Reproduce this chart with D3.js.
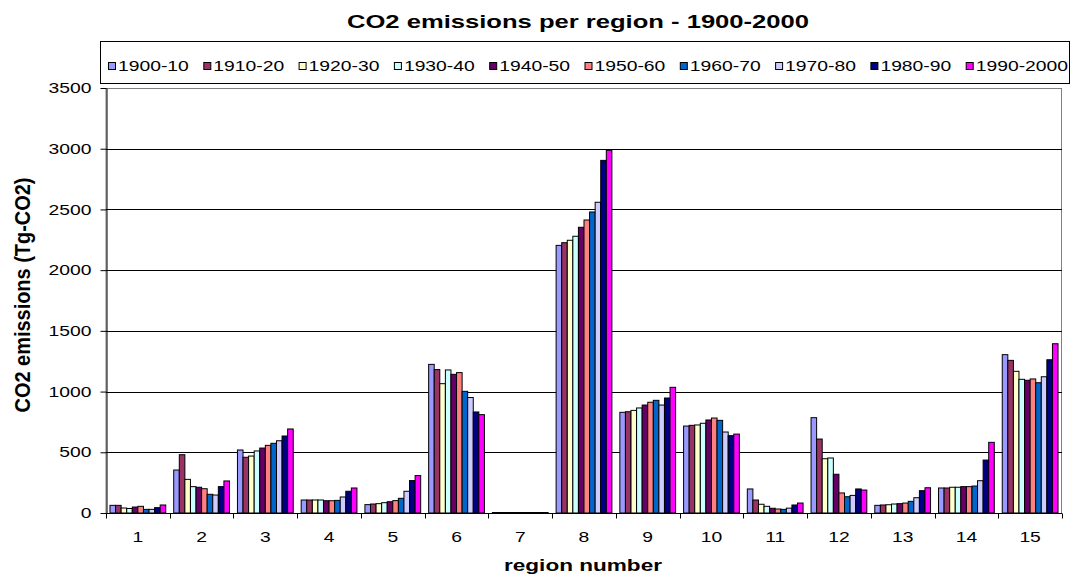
<!DOCTYPE html>
<html>
<head>
<meta charset="utf-8">
<script src="https://cdn.jsdelivr.net/npm/d3@7"></script>
<style>
  html, body { margin: 0; padding: 0; background: #fff; }
  svg { display: block; font-family: "Liberation Sans", Arial, sans-serif; }
</style>
</head>
<body>
<svg id="chart" width="1073" height="576"></svg>
<script>
// Regions on the x axis
const regions = ["1","2","3","4","5","6","7","8","9","10","11","12","13","14","15"];

// Decades shown in the legend
const periods = ["1900-10","1910-20","1920-30","1930-40","1940-50","1950-60","1960-70","1970-80","1980-90","1990-2000"];
const periodColors = ["#9999FF","#993366","#FFFFCC","#CCFFFF","#660066","#FF8080","#0066CC","#CCCCFF","#000080","#FF00FF"];

// CO2 emissions (Tg-CO2) per region, one array per decade
const e1900_10   = [63, 354, 519, 107,  69, 1224, 4, 2204,  829, 716, 198, 785,  63, 206, 1304];
const e1910_20   = [63, 480, 459, 107,  74, 1181, 4, 2226,  834, 722, 107, 609,  66, 206, 1257];
const e1920_30   = [41, 277, 469, 107,  77, 1065, 4, 2246,  845, 725,  72, 447,  68, 212, 1167];
const e1930_40   = [37, 217, 511, 107,  85, 1178, 4, 2279,  865, 739,  55, 453,  74, 212, 1101];
const e1940_50   = [49, 212, 535, 101,  93, 1142, 4, 2353,  889, 766,  39, 319,  77, 217, 1093];
const e1950_60   = [55, 200, 557, 101, 102, 1156, 4, 2413,  912, 782,  33, 165,  82, 217, 1104];
const e1960_70   = [30, 154, 574, 104, 121, 1002, 4, 2479,  928, 763,  30, 134,  96, 222, 1073];
const e1970_80   = [30, 148, 595, 132, 179,  951, 4, 2559,  889, 667,  40, 145, 126, 266, 1122];
const e1980_90   = [44, 217, 634, 179, 267,  832, 4, 2904,  947, 637,  66, 198, 184, 436, 1262];
const e1990_2000 = [66, 264, 692, 206, 308,  810, 4, 2987, 1035, 650,  82, 189, 208, 582, 1394];
const seriesValues = [e1900_10, e1910_20, e1920_30, e1930_40, e1940_50, e1950_60, e1960_70, e1970_80, e1980_90, e1990_2000];

// Y axis tick values
const yTicks = [0, 500, 1000, 1500, 2000, 2500, 3000, 3500];

const svg = d3.select("#chart");
const plot = { left: 106, right: 1062, top: 88, bottom: 513 };
const SX = 1.35; // horizontal stretch of all lettering

// Stretch a text element horizontally by a factor, keeping its anchor
function stretch(sel, k) {
  sel.each(function () {
    const len = this.getComputedTextLength();
    d3.select(this).attr("textLength", len * k).attr("lengthAdjust", "spacingAndGlyphs");
  });
}

const x0 = d3.scaleBand().domain(regions).range([plot.left, plot.right])
  .paddingInner(0.125).paddingOuter(0.0625);
const x1 = d3.scaleBand().domain(periods).range([0, x0.bandwidth()]);
const y = d3.scaleLinear().domain([0, 3500]).range([plot.bottom, plot.top]);

// Title
svg.append("text")
  .attr("x", 578).attr("y", 28)
  .attr("text-anchor", "middle")
  .attr("font-size", 18.5).attr("font-weight", "bold")
  .text("CO2 emissions per region - 1900-2000")
  .attr("textLength", 462).attr("lengthAdjust", "spacingAndGlyphs");

// Legend box
svg.append("rect")
  .attr("x", 100.5).attr("y", 41.5).attr("width", 969).attr("height", 42)
  .attr("fill", "#fff").attr("stroke", "#000").attr("stroke-width", 1);

const legendStep = 95.3;
const legend = svg.append("g").selectAll("g").data(periods).join("g")
  .attr("transform", (d, i) => `translate(${108 + i * legendStep},0)`);
legend.append("rect")
  .attr("x", 0.5).attr("y", 62.5).attr("width", 7).attr("height", 7)
  .attr("fill", (d, i) => periodColors[i]).attr("stroke", "#000").attr("stroke-width", 1);
legend.append("text")
  .attr("x", 10).attr("y", 71)
  .attr("font-size", 14.3)
  .text(d => d)
  .call(stretch, SX);

// Plot area frame
svg.append("rect")
  .attr("x", plot.left).attr("y", plot.top + 0.5)
  .attr("width", plot.right - plot.left - 0.5).attr("height", plot.bottom - plot.top)
  .attr("fill", "#fff").attr("stroke", "#808080").attr("stroke-width", 1);

// Horizontal gridlines
svg.append("g").selectAll("line").data(yTicks.filter(v => v > 0 && v < 3500)).join("line")
  .attr("x1", plot.left).attr("x2", plot.right)
  .attr("y1", d => Math.round(y(d)) + 0.5).attr("y2", d => Math.round(y(d)) + 0.5)
  .attr("stroke", "#000").attr("stroke-width", 1);

// Bars
const groups = svg.append("g").selectAll("g").data(regions).join("g")
  .attr("transform", d => `translate(${x0(d)},0)`);
groups.selectAll("rect")
  .data((r, ri) => periods.map((p, pi) => ({ p, pi, v: seriesValues[pi][ri] })))
  .join("rect")
  .attr("x", d => x1(d.p))
  .attr("y", d => y(d.v))
  .attr("width", x1.bandwidth())
  .attr("height", d => y(0) - y(d.v))
  .attr("fill", d => periodColors[d.pi])
  .attr("stroke", "#000").attr("stroke-width", 1);

// Y axis
const yAxis = svg.append("g")
  .attr("transform", `translate(${plot.left + 0.5},0)`)
  .call(d3.axisLeft(y).tickValues(yTicks).tickFormat(d3.format("d"))
    .tickSize(6).tickSizeOuter(0).tickPadding(9));
yAxis.select(".domain").attr("stroke", "#000");
yAxis.selectAll(".tick line").attr("stroke", "#000");
yAxis.selectAll(".tick text")
  .attr("font-family", "Liberation Sans, Arial, sans-serif")
  .attr("font-size", 14.5).attr("fill", "#000")
  .call(stretch, 1.33);

// X axis: ticks sit on the category boundaries
const xAxis = svg.append("g")
  .attr("transform", `translate(0,${plot.bottom + 0.5})`);
xAxis.append("line")
  .attr("x1", plot.left).attr("x2", plot.right)
  .attr("stroke", "#000");
const step = x0.step();
const boundaries = d3.range(regions.length + 1).map(i => x0(regions[0]) - x0.paddingOuter() * step + i * step);
xAxis.selectAll("line.tk").data(boundaries).join("line").attr("class", "tk")
  .attr("x1", d => Math.round(d) + 0.5).attr("x2", d => Math.round(d) + 0.5)
  .attr("y1", 0).attr("y2", 5).attr("stroke", "#000");
xAxis.selectAll("text").data(regions).join("text")
  .attr("x", d => x0(d) + x0.bandwidth() / 2)
  .attr("y", 28)
  .attr("text-anchor", "middle")
  .attr("font-size", 14.5)
  .text(d => d)
  .call(stretch, 1.33);

// Axis titles
svg.append("text")
  .attr("x", 583).attr("y", 571)
  .attr("text-anchor", "middle")
  .attr("font-size", 17).attr("font-weight", "bold")
  .text("region number")
  .attr("textLength", 158).attr("lengthAdjust", "spacingAndGlyphs");

svg.append("g")
  .attr("transform", "translate(30,295) scale(1.3,1) rotate(-90)")
  .append("text")
  .attr("text-anchor", "middle")
  .attr("font-size", 16.5).attr("font-weight", "bold")
  .text("CO2 emissions (Tg-CO2)")
  .attr("textLength", 235).attr("lengthAdjust", "spacingAndGlyphs");
</script>
</body>
</html>
